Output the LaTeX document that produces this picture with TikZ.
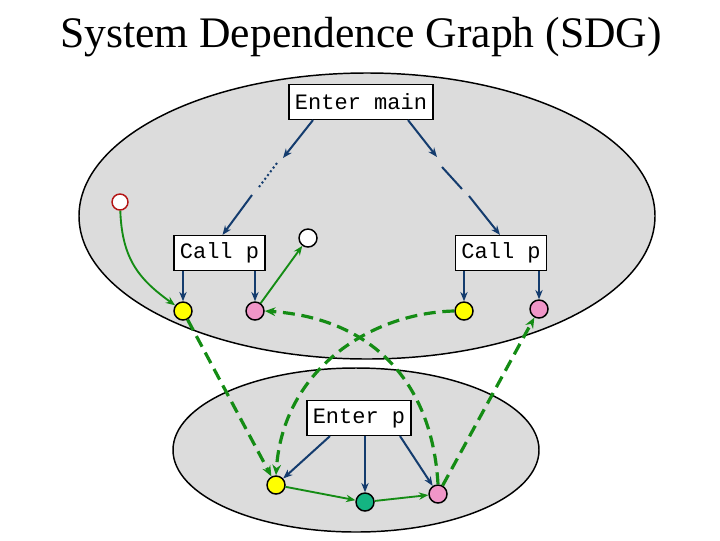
\documentclass[tikz,border=0pt]{standalone}
\usepackage{fontspec}
\setmainfont{Liberation Serif}
\newfontfamily\boxfont{Liberation Mono}
\usetikzlibrary{arrows.meta,calc}
\definecolor{navy}{RGB}{20,60,110}
\definecolor{grn}{RGB}{20,140,20}
\definecolor{bgray}{RGB}{220,220,220}
\definecolor{yel}{RGB}{255,255,0}
\definecolor{pnk}{RGB}{240,150,200}
\definecolor{tealc}{RGB}{20,180,130}
\definecolor{redc}{RGB}{180,20,20}
\tikzset{
  box/.style={draw=black,fill=white,line width=1.1pt,font=\boxfont\fontsize{16.5}{18}\selectfont,inner xsep=4.5pt,inner ysep=0pt,minimum height=26pt},
  circ/.style={circle,draw=black,line width=1.1pt,minimum size=13.5pt,inner sep=0pt},
  ctrl/.style={draw=navy,line width=1.5pt,-{Stealth[length=7pt,width=5.5pt]}},
  ctrlplain/.style={draw=navy,line width=1.5pt},
  dataf/.style={draw=grn,line width=1.4pt,-{Stealth[length=7pt,width=5.5pt]}},
  summ/.style={draw=grn,line width=2.4pt,dash pattern=on 9pt off 5pt,-{Stealth[length=8pt,width=6.5pt]}},
  region/.style={draw=black,fill=bgray,line width=1.1pt}
}
\begin{document}
\begin{tikzpicture}[x=0.75pt,y=-0.75pt]
\useasboundingbox (0,0) rectangle (720,540);
% title
\node[anchor=base,font=\fontsize{32.7}{36}\selectfont,inner sep=0pt] (title) at (361,47) {System Dependence Graph (SDG)};
% regions
\draw[region] (367,216) ellipse [x radius=216pt, y radius=107.25pt];
\draw[region] (356,450) ellipse [x radius=137.25pt, y radius=61.5pt];
% boxes
\node[box] (em) at (361,102) {Enter main};
\node[box] (cpl) at (219.5,253) {Call p};
\node[box] (cpr) at (501,253) {Call p};
\node[box] (ep) at (359,418) {Enter p};
% circles
\node[circ,draw=redc,fill=white,minimum size=12pt] (rc) at (120,202) {};
\node[circ,fill=white] (wc) at (308,238) {};
\node[circ,fill=yel] (yl) at (183,311) {};
\node[circ,fill=pnk] (pl) at (255,311) {};
\node[circ,fill=yel] (yr) at (464,311) {};
\node[circ,fill=pnk] (pr) at (539,309) {};
\node[circ,fill=yel] (yb) at (276,485) {};
\node[circ,fill=tealc] (tb) at (365,502) {};
\node[circ,fill=pnk] (pb) at (438,494) {};
% break coordinates
\coordinate (l1) at (283,158);
\coordinate (l2a) at (277,163);
\coordinate (l2b) at (259,187);
\coordinate (l3) at (252,195);
\coordinate (r1) at (437,157);
\coordinate (r2a) at (442,167);
\coordinate (r2b) at (462,189);
\coordinate (r3) at (469,196);
% control edges
\draw[ctrl] ($(em.south)+(-48,0)$) -- (l1);
\draw[ctrlplain,dotted] (l2a) -- (l2b);
\draw[ctrl] (l3) -- ($(cpl.north)+(3,0)$);
\draw[ctrl] ($(em.south)+(47,0)$) -- (r1);
\draw[ctrlplain] (r2a) -- (r2b);
\draw[ctrl] (r3) -- ($(cpr.north)+(-1,0)$);
\draw[ctrl] (cpl.south -| yl) -- (yl);
\draw[ctrl] (cpl.south -| pl) -- (pl);
\draw[ctrl] (cpr.south -| yr) -- (yr);
\draw[ctrl] (cpr.south -| pr) -- (pr);
\draw[ctrl] ($(ep.south)+(-29,0)$) -- (yb);
\draw[ctrl] (ep.south -| tb) -- (tb);
\draw[ctrl] ($(ep.south)+(41,0)$) -- (pb);
% flow edges
\draw[dataf] (rc) .. controls (122,260) and (140,280) .. (yl);
\draw[dataf] (pl) -- (wc);
\draw[dataf] (yb) -- (tb);
\draw[dataf] (tb) -- (pb);
% summary / parameter edges
\draw[summ] (yl) -- (yb);
\draw[summ] (yr.west) .. controls (370,313) and (283,370) .. (yb.north);
\draw[summ] (pb.north) .. controls (432,380) and (370,318) .. (pl.east);
\draw[summ] (pb) -- (pr);
\end{tikzpicture}
\end{document}
